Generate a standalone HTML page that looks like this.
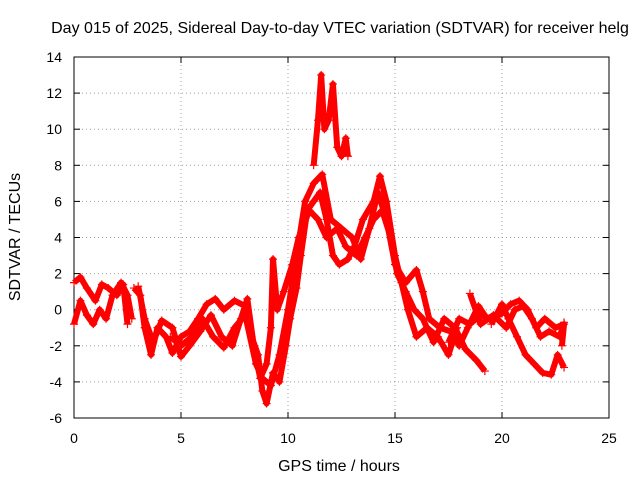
<!DOCTYPE html>
<html><head><meta charset="utf-8"><style>
body{margin:0;background:#fff;}
svg{display:block;font-family:"Liberation Sans",sans-serif;}
</style></head><body>
<svg id="c" width="640" height="480"></svg>
<script>
const xTicks=[0,5,10,15,20,25];
const yTicks=[-6,-4,-2,0,2,4,6,8,10,12,14];
const trackA=[[0,1.5],[0.3,1.8],[0.6,1.2],[1,0.5],[1.3,1.4],[1.6,1.2],[2,0.8],[2.3,1.4],[2.5,-0.8]];
const trackB=[[0,-0.8],[0.3,0.5],[0.6,-0.3],[0.9,-0.8],[1.2,0],[1.5,-0.5],[1.8,0.8],[2.2,1.5],[2.5,0.8],[2.7,-0.5]];
const trackC=[[2.8,1.2],[3.1,0.8],[3.3,-1],[3.6,-2.5],[3.9,-1],[4.3,-1.5],[4.6,-2.4],[5,-1.5],[5.4,-1.2],[5.8,-0.5],[6.2,0.3],[6.6,0.6],[7,0],[7.5,0.5],[8,0.2],[8.3,-1.5],[8.6,-2.5],[8.8,-4.5],[9,-5.2],[9.3,-3.5],[9.6,-4],[9.9,-2],[10.1,-0.5],[10.4,1.2],[10.6,3],[10.9,5.5],[11.2,6],[11.5,6.5],[11.8,5],[12.1,3],[12.4,2.5],[12.8,2.8],[13.1,3.5],[13.5,5],[14,6],[14.3,7.4],[14.6,6],[15,3],[15.3,1.5],[15.6,0],[16,-1.5],[16.5,-1],[17,-1.5],[17.5,-2.5],[17.9,-1]];
const trackD=[[3,1.3],[3.3,-0.5],[3.7,-1.8],[4.1,-0.6],[4.6,-1],[5,-2.6],[5.4,-2],[5.9,-1.2],[6.4,-0.3],[6.9,-1.5],[7.4,-2],[7.8,-0.5],[8.1,0.6],[8.4,-2],[8.7,-3.8],[9,-3],[9.2,-1],[9.3,2.8],[9.5,0],[9.8,1],[10.2,2.5],[10.5,4],[11,5.5],[11.4,5],[11.8,4],[12.3,4.5],[12.7,3.5],[13.2,3],[13.6,4],[14,5],[14.4,5.5],[14.8,4],[15.1,2],[15.5,1],[15.9,0],[16.3,-0.5],[16.8,-1.8],[17.3,-0.5],[17.8,-1],[18.3,-2.2],[18.8,-2.8],[19.2,-3.4]];
const trackE=[[4.5,-1.5],[5,-2],[5.5,-1.5],[6,-0.5],[6.5,-1.5],[7,-2.1],[7.5,-1],[8,-0.3],[8.5,-3],[8.8,-3.8],[9.2,-4.2],[9.6,-2.5],[10,0],[10.4,3],[10.8,6],[11.2,7],[11.6,7.5],[12,5],[12.5,4.5],[13,4],[13.4,2.8],[13.8,4.5],[14.2,6.5],[14.6,5],[15,2.5],[15.5,1.5],[16,2.2],[16.3,1],[16.6,-0.5],[17.1,-1],[17.6,-1.2],[18,-2],[18.4,-1],[18.9,0.2],[19.3,-0.5]];
const trackF=[[11.2,8],[11.4,10.5],[11.55,13],[11.7,10],[11.9,10.5],[12.1,12.5],[12.3,9],[12.5,8.5],[12.7,9.5],[12.8,8.5]];
const trackG=[[17.5,-1.8],[18,-0.5],[18.5,-0.8],[19,-0.3],[19.5,-0.5],[20,-0.2],[20.4,0.3],[20.8,0.5],[21.2,0],[21.6,-1],[22,-0.5],[22.5,-1],[22.9,-0.8],[22.8,-2]];
const trackH=[[19.5,-0.8],[20,0.3],[20.3,-0.5],[20.7,-1.5],[21.1,-2.5],[21.5,-3],[21.9,-3.5],[22.3,-3.6],[22.6,-2.5],[22.9,-3.2]];
const trackI=[[18.5,0.9],[19,-0.8],[19.6,-0.3],[20.2,-1],[20.6,0],[21,0.2],[21.4,-0.5],[21.8,-1.5],[22.2,-1.2],[22.7,-1.5],[22.9,-0.7]];
const tracks=[trackA,trackB,trackC,trackD,trackE,trackF,trackG,trackH,trackI];
const L=74,R=609,T=57,B=418;
const sx=v=>L+(v-0)/25*(R-L);
const sy=v=>B-(v+6)/20*(B-T);
const NS="http://www.w3.org/2000/svg";
const svg=document.getElementById('c');
function mk(t,a,p){const e=document.createElementNS(NS,t);for(const k in a)e.setAttribute(k,a[k]);(p||svg).appendChild(e);return e;}
xTicks.forEach(v=>{
 const g=mk('line',{x1:sx(v),x2:sx(v),y1:T,y2:B,stroke:'#a0a0a0','stroke-dasharray':'1,3'});
 
 
 mk('line',{x1:sx(v),x2:sx(v),y1:B,y2:B-6,stroke:'#000'});
 mk('line',{x1:sx(v),x2:sx(v),y1:T,y2:T+6,stroke:'#000'});
 const t=mk('text',{x:sx(v),y:443,'text-anchor':'middle','font-size':14});
 t.textContent=v;
 
 
});
yTicks.forEach(v=>{
 const g=mk('line',{x1:L,x2:R,y1:sy(v),y2:sy(v),stroke:'#a0a0a0','stroke-dasharray':'1,3'});
 
 
 mk('line',{x1:L,x2:L+6,y1:sy(v),y2:sy(v),stroke:'#000'});
 mk('line',{x1:R,x2:R-6,y1:sy(v),y2:sy(v),stroke:'#000'});
 const t=mk('text',{x:62,y:sy(v)+5,'text-anchor':'end','font-size':14});
 t.textContent=v;
 
 
});
const border=mk('rect',{x:L,y:T,width:R-L,height:B-T,fill:'none',stroke:'#000'});


tracks.forEach(tr=>{
 const pl=mk('polyline',{points:tr.map(p=>sx(p[0])+','+sy(p[1])).join(' '),fill:'none',stroke:'#ff0000','stroke-width':6,'stroke-linejoin':'round'});
 
 
 tr.forEach(p=>{
  const x=sx(p[0]),y=sy(p[1]);
  const m=mk('path',{d:`M${x-4},${y}H${x+4}M${x},${y-4}V${y+4}`,stroke:'#ff0000','stroke-width':1.2});
  
  
 });
});
const title=mk('text',{x:340,y:33,'text-anchor':'middle','font-size':16});
title.textContent='Day 015 of 2025, Sidereal Day-to-day VTEC variation (SDTVAR) for receiver helg';


const xl=mk('text',{x:339,y:471,'text-anchor':'middle','font-size':16});
xl.textContent='GPS time / hours';


const yl=mk('text',{x:20,y:237,'text-anchor':'middle','font-size':16,transform:'rotate(-90 20 237)'});
yl.textContent='SDTVAR / TECUs';


</script>
</body></html>
